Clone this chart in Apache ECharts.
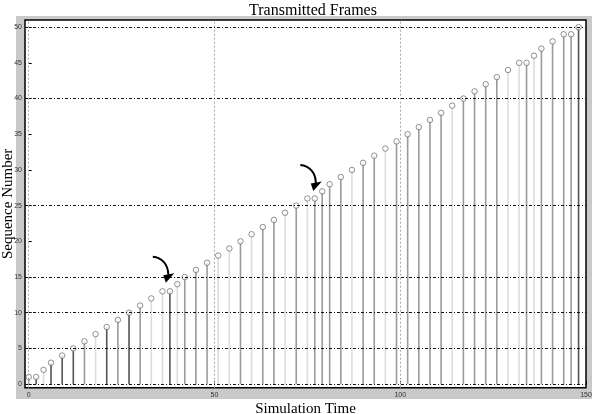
<!DOCTYPE html>
<html>
<head>
<meta charset="utf-8">
<script src="https://cdn.jsdelivr.net/npm/echarts@6/dist/echarts.min.js"></script>
<style>
html,body{margin:0;padding:0;background:#fff;}
#chart{width:595px;height:414px;}
</style>
</head>
<body>
<div id="chart"></div>
<script>
// ---- data ----
const simTime = [0,2,4,6,9,12,15,18,21,24,27,30,33,36,38,40,42,45,48,51,54,57,60,63,66,69,72,75,77,79,81,84,87,90,93,96,99,102,105,108,111,114,117,120,123,126,129,132,134,136,138,141,144,146,148];
const seqNumber = [1,1,2,3,4,5,6,7,8,9,10,11,12,13,13,14,15,16,17,18,19,20,21,22,23,24,25,26,26,27,28,29,30,31,32,33,34,35,36,37,38,39,40,41,42,43,44,45,45,46,47,48,49,49,50];
const xTickValues = [0,50,100,150];
const yTickValues = [0,5,10,15,20,25,30,35,40,45,50];
const hGridValues = [0,5,10,15,25,40,50];
const vGridValues = [0,50,100];
// annotation arrows: tip position in data coordinates
const arrowTips = [[36.9,14.2],[76.6,27.05]];

// ---- styles ----
const stemTone = ['m','d','l','d','d','d','m','l','d','m','d','m','l','l','d','l','m','m','m','l','l','m','l','m','m','l','m','l','m','m','m','m','l','m','m','l','m','m','m','m','m','l','m','m','m','m','l','l','m','l','m','m','m','m','d'];
const toneColor = {d:'#555555', m:'#9a9a9a', l:'#dcdcdc'};
const serif = '"Liberation Serif","Times New Roman",serif';

const chart = echarts.init(document.getElementById('chart'), null, {renderer:'canvas'});
const pts = simTime.map((x,i)=>[x, seqNumber[i]]);

const option = {
  animation:false,
  backgroundColor:'#fff',
  title:{
    text:'Transmitted Frames', left:308, top:-2, textAlign:'center',
    textStyle:{fontFamily:serif, fontSize:16, fontWeight:'normal', color:'#000'}
  },
  graphic:[
    {type:'rect', z:-100, silent:true, shape:{x:16,y:16,width:576,height:383}, style:{fill:'#c9c9c9'}}
  ],
  grid:{left:25, top:20, width:561, height:367.7, outerBoundsMode:'none', containLabel:false,
        show:true, backgroundColor:'#fff', borderColor:'#000', borderWidth:1.5},
  xAxis:{
    type:'value', min:-1, max:150,
    name:'Simulation Time', nameLocation:'middle', nameGap:14, nameMoveOverlap:false,
    nameTextStyle:{fontFamily:serif, fontSize:15, color:'#000'},
    axisLine:{show:false},
    splitLine:{show:false},
    axisTick:{show:true, inside:true, length:3, lineStyle:{color:'#000'}, customValues:xTickValues},
    axisLabel:{customValues:xTickValues, fontSize:7, color:'#333', margin:4, fontFamily:'Liberation Sans'}
  },
  yAxis:{
    type:'value', min:-0.5, max:51,
    name:'Sequence Number', nameLocation:'middle', nameGap:9, nameRotate:90, nameMoveOverlap:false,
    nameTextStyle:{fontFamily:serif, fontSize:15, color:'#000'},
    axisLine:{show:false},
    splitLine:{show:false},
    axisTick:{show:true, inside:true, length:3, lineStyle:{color:'#000'}, customValues:yTickValues},
    axisLabel:{customValues:yTickValues, fontSize:7, color:'#333', margin:3, fontFamily:'Liberation Sans'}
  },
  series:[
    {
      type:'custom', name:'stems', data:pts, z:2,
      renderItem:function(params, api){
        const x = api.value(0), y = api.value(1);
        const p0 = api.coord([x,0]), p1 = api.coord([x,y]);
        return {type:'line', shape:{x1:p0[0],y1:p0[1],x2:p1[0],y2:p1[1]},
                style:{stroke:toneColor[stemTone[params.dataIndex]], lineWidth:1.6}};
      },
      markLine:{
        silent:true, symbol:'none', label:{show:false},
        lineStyle:{color:'#aaaaaa', type:[2,2], width:1},
        data:vGridValues.map(v=>({xAxis:v}))
      }
    },
    {
      type:'scatter', name:'frames', data:pts, z:4,
      symbol:'circle', symbolSize:5.5,
      itemStyle:{color:'#ffffff', borderColor:'#555555', borderWidth:0.8},
      markLine:{
        silent:true, symbol:'none', label:{show:false},
        lineStyle:{color:'#111', type:[3,2,1,2], width:1},
        data:hGridValues.map(v=>({yAxis:v}))
      }
    }
  ]
};
chart.setOption(option);

// arrows (annotation) anchored at data coordinates
const arrowGraphics = [];
arrowTips.forEach(function(t){
  const p = chart.convertToPixel({gridIndex:0}, t);
  const X = p[0], Y = p[1];
  arrowGraphics.push({
    type:'bezierCurve', z:20, silent:true,
    shape:{x1:X-13, y1:Y-26, cpx1:X-4, cpy1:Y-25.5, cpx2:X+2.5, cpy2:Y-18, x2:X+2.5, y2:Y-8},
    style:{stroke:'#000', lineWidth:2, fill:null}
  });
  arrowGraphics.push({
    type:'polygon', z:20, silent:true,
    shape:{points:[[X-2.5,Y-7.5],[X+8.5,Y-9.5],[X,Y]]},
    style:{fill:'#000'}
  });
});
chart.setOption({graphic:option.graphic.concat(arrowGraphics)});
</script>
</body>
</html>
